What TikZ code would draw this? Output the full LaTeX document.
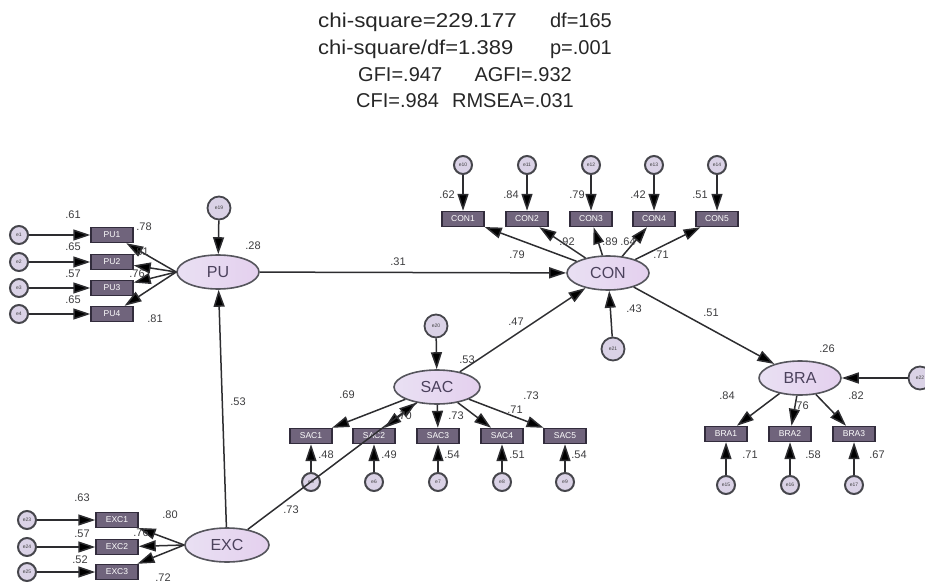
\documentclass[tikz,border=0pt]{standalone}
\usepackage{fontspec}
\setmainfont{Liberation Sans}
\usetikzlibrary{shapes.geometric,arrows.meta}
\definecolor{latfill}{RGB}{233,224,243}
\definecolor{latfillR}{RGB}{228,208,238}
\definecolor{latdraw}{RGB}{85,85,92}
\definecolor{obsfill}{RGB}{112,100,124}
\definecolor{obsdraw}{RGB}{50,44,60}
\definecolor{errfill}{RGB}{218,210,230}
\definecolor{errdraw}{RGB}{70,70,76}
\definecolor{linec}{RGB}{45,45,48}
\definecolor{numc}{RGB}{60,60,62}
\definecolor{latext}{RGB}{75,65,92}
\begin{document}
\begin{tikzpicture}[x=1pt,y=-1pt,
  latent/.style={ellipse, draw=latdraw, line width=1.6pt, left color=latfill, right color=latfillR,
    minimum width=82pt, minimum height=34pt, inner sep=0pt, text=latext,
    font=\fontsize{16}{16}\selectfont},
  obs/.style={rectangle, draw=obsdraw, line width=1.4pt, fill=obsfill, text=white,
    minimum width=42pt, minimum height=15pt, inner sep=0pt, font=\fontsize{8.5}{8.5}\selectfont},
  err/.style={circle, draw=errdraw, line width=2pt, fill=errfill, text=black!75,
    minimum size=18pt, inner sep=0pt, font=\fontsize{5}{5}\selectfont},
  lerr/.style={err, minimum size=23pt, line width=1.8pt},
  arr/.style={draw=linec, line width=1.5pt, -{Triangle[length=17pt,width=11pt,fill=black]}},
  num/.style={text=numc, font=\fontsize{11}{11}\selectfont, inner sep=0pt},
  headL/.style={anchor=base west, inner sep=0pt, text=black!85, font=\fontsize{20}{20}\selectfont},
  headR/.style={anchor=base east, inner sep=0pt, text=black!85, font=\fontsize{20}{20}\selectfont}
]
\useasboundingbox (0,0) rectangle (925,585);

% fit statistics
\node[headL] (h1a) at (318,28) {\scalebox{1.12}[1]{chi-square=229.177}};
\node[headR] (h1b) at (612,28) {df=165};
\node[headL] (h2a) at (318,55) {\scalebox{1.1}[1]{chi-square/df=1.389}};
\node[headR] (h2b) at (612,55) {p=.001};
\node[headL] (h3a) at (358,82) {GFI=.947};
\node[headR] (h3b) at (572,82) {AGFI=.932};
\node[headL] (h4a) at (356,108) {CFI=.984};
\node[headR] (h4b) at (574,108) {RMSEA=.031};

% latent variables
\node[latent] (PU)  at (218,272) {PU};
\node[latent] (CON) at (608,273) {CON};
\node[latent, minimum width=86pt] (SAC) at (437,387) {SAC};
\node[latent] (BRA) at (800,378) {BRA};
\node[latent, minimum width=84pt] (EXC) at (227,545) {EXC};

% disturbances of latent variables
\node[lerr] (e19) at (219,208) {e19};
\node[lerr] (e20) at (436,326) {e20};
\node[lerr] (e21) at (613,349) {e21};
\node[lerr] (e22) at (920,378) {e22};

% PU indicators
\foreach \i/\y in {1/235,2/262,3/288,4/314}{
  \node[obs] (pu\i) at (112,\y) {PU\i};
  \node[err] (ep\i) at (19,\y) {e\i};
  \draw[arr] (ep\i) -- (pu\i);
  \draw[arr] (PU.west) -- (pu\i);
}
% EXC indicators
\foreach \i/\y/\e in {1/520/23,2/547/24,3/572/25}{
  \node[obs] (exc\i) at (117,\y) {EXC\i};
  \node[err] (ex\i) at (27,\y) {e\e};
  \draw[arr] (ex\i) -- (exc\i);
  \draw[arr] (EXC.west) -- (exc\i);
}
% CON indicators
\foreach \i/\x/\e in {1/463/10,2/527/11,3/591/12,4/654/13,5/717/14}{
  \node[obs] (con\i) at (\x,219) {CON\i};
  \node[err] (ec\i) at (\x,165) {e\e};
  \draw[arr] (ec\i) -- (con\i);
  \draw[arr] (CON) -- (con\i);
}
% SAC indicators
\foreach \i/\x/\e in {1/311/5,2/374/6,3/438/7,4/502/8,5/565/9}{
  \node[obs] (sac\i) at (\x,436) {SAC\i};
  \node[err] (es\i) at (\x,482) {e\e};
  \draw[arr] (es\i) -- (sac\i);
  \draw[arr] (SAC) -- (sac\i);
}
% BRA indicators
\foreach \i/\x/\e in {1/726/15,2/790/16,3/854/17}{
  \node[obs] (bra\i) at (\x,434) {BRA\i};
  \node[err] (eb\i) at (\x,485) {e\e};
  \draw[arr] (eb\i) -- (bra\i);
  \draw[arr] (BRA) -- (bra\i);
}

% disturbance paths
\draw[arr] (e19) -- (PU);
\draw[arr] (e20) -- (SAC);
\draw[arr] (e21) -- (CON);
\draw[arr] (e22) -- (BRA);

% structural paths
\draw[arr] (PU) -- (CON);
\draw[arr] (EXC) -- (PU);
\draw[arr] (EXC) -- (SAC);
\draw[arr] (SAC) -- (CON);
\draw[arr] (CON) -- (BRA);

% structural estimates
\node[num] at (398,262) {.31};
\node[num] at (238,402) {.53};
\node[num] at (291,510) {.73};
\node[num] at (516,322) {.47};
\node[num] at (711,313) {.51};
\node[num] at (253,246) {.28};
\node[num] at (467,360) {.53};
\node[num] at (634,309) {.43};
\node[num] at (827,349) {.26};

% PU estimates
\node[num] at (73,215) {.61};
\node[num] at (73,247) {.65};
\node[num] at (73,274) {.57};
\node[num] at (73,300) {.65};
\node[num] at (144,227) {.78};
\node[num] at (141,252) {.81};
\node[num] at (137,274) {.76};
\node[num] at (155,319) {.81};

% EXC estimates
\node[num] at (82,498) {.63};
\node[num] at (82,534) {.57};
\node[num] at (80,560) {.52};
\node[num] at (170,515) {.80};
\node[num] at (141,533) {.76};
\node[num] at (163,578) {.72};

% CON estimates
\node[num] at (447,195) {.62};
\node[num] at (511,195) {.84};
\node[num] at (577,195) {.79};
\node[num] at (638,195) {.42};
\node[num] at (700,195) {.51};
\node[num] at (517,255) {.79};
\node[num] at (567,242) {.92};
\node[num] at (610,242) {.89};
\node[num] at (628,242) {.64};
\node[num] at (661,255) {.71};

% SAC estimates
\node[num] at (347,395) {.69};
\node[num] at (404,416) {.70};
\node[num] at (456,416) {.73};
\node[num] at (515,410) {.71};
\node[num] at (531,396) {.73};
\node[num] at (326,455) {.48};
\node[num] at (389,455) {.49};
\node[num] at (452,455) {.54};
\node[num] at (517,455) {.51};
\node[num] at (579,455) {.54};

% BRA estimates
\node[num] at (727,396) {.84};
\node[num] at (801,406) {.76};
\node[num] at (856,396) {.82};
\node[num] at (750,455) {.71};
\node[num] at (813,455) {.58};
\node[num] at (877,455) {.67};
\end{tikzpicture}
\end{document}
